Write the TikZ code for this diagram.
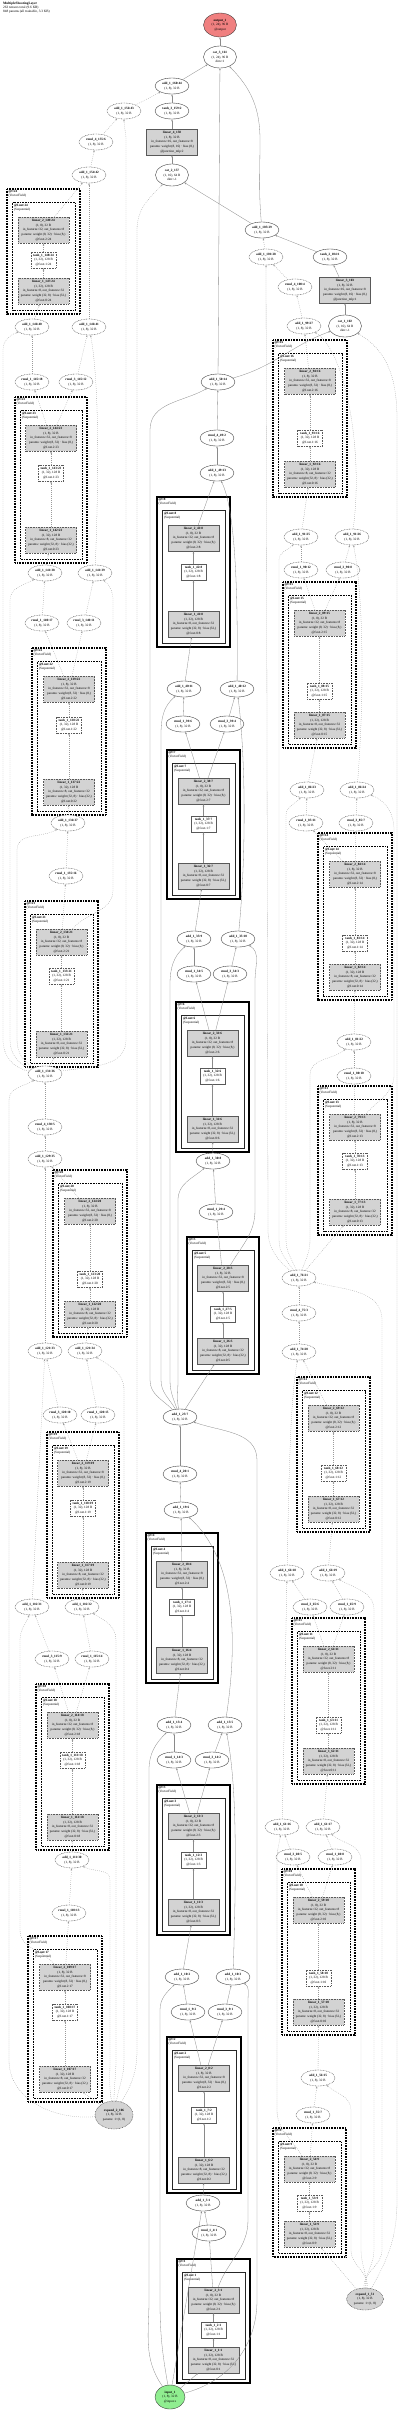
\documentclass[tikz,border=0pt]{standalone}
\usepackage{fontspec}
\setmainfont{Liberation Serif}
\usetikzlibrary{shapes.geometric,arrows.meta}
\definecolor{linfill}{HTML}{D3D3D3}
\definecolor{outfill}{HTML}{F08080}
\definecolor{infill}{HTML}{90EE90}
\definecolor{edgecol}{HTML}{8A8A8A}
\definecolor{edgecolD}{HTML}{9A9A9A}
\tikzset{
  txt/.style={font=\fontsize{3.3}{4.7}\selectfont, align=center},
  fnS/.style={ellipse, draw=black!80, line width=0.35pt, fill=white, minimum width=34pt, minimum height=16pt, inner sep=0pt, txt},
  fnD/.style={fnS, dash pattern=on 0.8pt off 0.8pt},
  linS/.style={rectangle, draw=black!65, line width=0.35pt, fill=linfill, minimum width=51pt, minimum height=26pt, inner xsep=0pt, inner ysep=1pt, txt},
  linD/.style={linS, dash pattern=on 0.8pt off 0.8pt},
  thS/.style={rectangle, draw=black!65, line width=0.35pt, fill=white, minimum width=25pt, minimum height=16pt, inner sep=0.5pt, txt},
  thD/.style={thS, dash pattern=on 0.8pt off 0.8pt},
  outerS/.style={draw=black, line width=1.3pt},
  outerD/.style={draw=black, line width=1.5pt, dash pattern=on 0.8pt off 0.8pt},
  innerS/.style={draw=black!85, line width=0.9pt},
  innerD/.style={draw=black, line width=1.0pt, dash pattern=on 0.8pt off 0.8pt},
  clab/.style={font=\fontsize{3.3}{3.9}\selectfont, align=left, inner sep=0pt},
  edgeS/.style={draw=edgecol, line width=0.3pt, -{Stealth[length=2.2pt,width=1.6pt]}},
  edgeD/.style={edgeS, draw=edgecolD, dash pattern=on 0.8pt off 1.2pt},
}
% VectorField block: #1 N, #2 x1, #3 y1, #4 x2, #5 y2, #6 tanh y, #7 base index, #8 S/D
\newcommand\vfb[8]{%
  \pgfmathsetmacro\vfcx{(#2+#4)/2}%
  \pgfmathsetmacro\vftop{#3+41}%
  \pgfmathsetmacro\vfbot{#5-23}%
  \draw[outer#8] (#2,#3) rectangle (#4,#5);
  \node[clab,anchor=north west] (fl#1) at (#2+1.4,#3+1) {\textbf{@f:#1}\\(VectorField)};
  \draw[inner#8] (#2+5.5,#3+13.5) rectangle (#4-4.5,#5-4);
  \node[clab,anchor=north west] (nl#1) at (#2+6.9,#3+14.6) {\textbf{@f.net:#1}\\(Sequential)};
  \node[lin#8] (la#1) at (\vfcx,\vfbot) {\textbf{linear\_1\_#7:#1}\\(1, 32), 128 B\\in\_features=8, out\_features=32\\params: weight (32, 8) · bias (32,)\\@f.net.0:#1};
  \node[th#8] (tb#1) at (\vfcx,#6) {\textbf{tanh\_1\_\the\numexpr#7+1\relax:#1}\\(1, 32), 128 B\\@f.net.1:#1};
  \node[lin#8] (lc#1) at (\vfcx,\vftop) {\textbf{linear\_2\_\the\numexpr#7+2\relax:#1}\\(1, 8), 32 B\\in\_features=32, out\_features=8\\params: weight (8, 32) · bias (8,)\\@f.net.2:#1};
  \draw[edge#8] (la#1) -- (tb#1);
  \draw[edge#8] (tb#1) -- (lc#1);
}
\newcommand\fnode[5]{\node[fn#2] (#1) at (#3,#4) {\textbf{#5}\\(1, 8), 32 B};}
\begin{document}
\begin{tikzpicture}[x=1pt,y=-1pt]
\fill[white] (0,0) rectangle (400,2410);
\useasboundingbox (0,0) rectangle (400,2410);
\node[anchor=north west, inner sep=0pt, align=left, font=\fontsize{3.4}{3.8}\selectfont] (hdr) at (3,2) {\textbf{MultipleShootingLayer}\\263 tensors total (9.6 KB)\\848 params (all trainable, 3.3 KB)};

% ---------------- blocks ----------------
\vfb{1}{177}{2259}{250}{2383}{2330}{1}{S}
\vfb{2}{167}{2037}{241}{2193}{2115}{6}{S}
\vfb{3}{157}{1785}{230}{1935}{1860}{11}{S}
\vfb{4}{146}{1533}{218}{1683}{1607}{16}{S}
\vfb{5}{187}{1237}{259}{1374}{1314}{26}{S}
\vfb{6}{176}{1002}{249}{1152}{1076}{31}{S}
\vfb{7}{167}{750}{240}{899}{824}{36}{S}
\vfb{8}{157}{497}{230}{647}{572}{41}{S}
\vfb{9}{273}{2128}{346}{2257}{2203}{52}{D}
\vfb{10}{282}{1869}{355}{2035}{1978}{57}{D}
\vfb{11}{292}{1618}{365}{1784}{1725}{62}{D}
\vfb{12}{297}{1377}{370}{1532}{1473}{67}{D}
\vfb{13}{318}{1086}{392}{1235}{1161}{77}{D}
\vfb{14}{318}{833}{392}{1000}{943}{82}{D}
\vfb{15}{283}{582}{356}{748}{691}{87}{D}
\vfb{16}{273}{340}{347}{497}{438}{92}{D}
\vfb{17}{28}{1936}{102}{2102}{2012}{107}{D}
\vfb{18}{36}{1684}{109}{1850}{1760}{112}{D}
\vfb{19}{47}{1432}{119}{1598}{1508}{117}{D}
\vfb{20}{53}{1170}{127}{1337}{1279}{122}{D}
\vfb{21}{25}{901}{98}{1067}{976}{132}{D}
\vfb{22}{32}{648}{106}{815}{725}{137}{D}
\vfb{23}{15}{397}{87}{563}{473}{142}{D}
\vfb{24}{7}{189}{80}{314}{260}{147}{D}

% ---------------- special nodes ----------------
\node[fnS, fill=outfill, minimum width=33pt, minimum height=24pt] (outp) at (220,25) {\textbf{output\_1}\\(1, 24), 96 B\\@output};
\node[fnS, fill=infill, minimum width=30pt, minimum height=24pt] (inp) at (170,2397) {\textbf{input\_1}\\(1, 8), 32 B\\@input.x};
\node[fnD, fill=linfill, minimum width=37pt, minimum height=22pt] (exp1) at (365,2299) {\textbf{expand\_1\_51}\\(1, 8), 32 B\\params: 1×(1, 8)};
\node[fnD, fill=linfill, minimum width=38pt, minimum height=28pt] (exp2) at (114,2115) {\textbf{expand\_2\_106}\\(1, 8), 32 B\\params: 1×(1, 8)};
\node[fnS, minimum width=33pt, minimum height=22pt] (cat161) at (220,57) {\textbf{cat\_3\_161}\\(1, 24), 96 B\\dim=1};
\node[fnS, minimum width=33pt, minimum height=22pt] (cat157) at (172,175) {\textbf{cat\_2\_157}\\(1, 16), 64 B\\dim=-1};
\node[fnS, minimum width=33pt, minimum height=22pt] (cat1) at (345,326) {\textbf{cat\_1\_102}\\(1, 16), 64 B\\dim=-1};
\node[linS] (lin4) at (172,142) {\textbf{linear\_4\_158}\\(1, 8), 32 B\\in\_features=16, out\_features=8\\params: weight (8, 16) · bias (8,)\\@junction\_mlp:2};
\node[linS] (lin3) at (345,290) {\textbf{linear\_3\_103}\\(1, 8), 32 B\\in\_features=16, out\_features=8\\params: weight (8, 16) · bias (8,)\\@junction\_mlp:1};
\fnode{tanh3}{S}{172}{111}{tanh\_3\_159:2}
\fnode{tanh2}{S}{330}{257}{tanh\_2\_104:1}
\fnode{add160}{S}{172}{86}{add\_1\_160:44}
\fnode{rj}{S}{262}{230}{add\_1\_105:29}

% ---------------- middle segment ----------------
\fnode{mr1}{S}{209}{2233}{rmul\_1\_4:1}
\fnode{ma1}{S}{203}{2203}{add\_1\_5:1}
\fnode{mr2a}{S}{188}{2012}{rmul\_1\_9:2}
\fnode{mr2b}{S}{225}{2012}{rmul\_3\_9:1}
\fnode{ma2a}{S}{182}{1977}{add\_1\_10:2}
\fnode{ma2b}{S}{233}{1977}{add\_1\_10:3}
\fnode{mr3a}{S}{174}{1760}{rmul\_1\_14:3}
\fnode{mr3b}{S}{212}{1760}{rmul\_3\_14:2}
\fnode{ma3a}{S}{174}{1725}{add\_1\_15:4}
\fnode{ma3b}{S}{225}{1725}{add\_1\_15:5}
\fnode{ms}{S}{181}{1510}{add\_1\_19:6}
\fnode{mr4}{S}{180}{1474}{rmul\_4\_20:1}
\fnode{mx1}{S}{180}{1417}{add\_1\_25:7}
\fnode{mr5}{S}{216}{1212}{rmul\_1\_29:4}
\fnode{ma5}{S}{213}{1161}{add\_1\_30:8}
\fnode{mr6a}{S}{194}{974}{rmul\_1\_34:5}
\fnode{mr6b}{S}{230}{974}{rmul\_3\_34:3}
\fnode{ma6a}{S}{194}{939}{add\_1\_35:9}
\fnode{ma6b}{S}{238}{939}{add\_1\_35:10}
\fnode{mr7a}{S}{183}{724}{rmul\_1\_39:6}
\fnode{mr7b}{S}{227}{724}{rmul\_3\_39:4}
\fnode{ma7a}{S}{184}{689}{add\_1\_40:11}
\fnode{ma7b}{S}{237}{689}{add\_1\_40:12}
\fnode{ms2}{S}{217}{473}{add\_1\_49:13}
\fnode{mr8}{S}{217}{438}{rmul\_4\_49:2}
\fnode{mx2}{S}{218}{382}{add\_1\_50:14}

% ---------------- right segment ----------------
\fnode{rr1}{D}{313}{2115}{rmul\_1\_55:7}
\fnode{ra1}{D}{318}{2078}{add\_1\_56:15}
\fnode{rr2c}{D}{293}{1857}{rmul\_3\_60:5}
\fnode{rr2s}{D}{335}{1857}{rmul\_1\_60:8}
\fnode{ra2c}{D}{282}{1827}{add\_1\_61:16}
\fnode{ra2s}{D}{323}{1827}{add\_1\_61:17}
\fnode{rr3c}{D}{310}{1607}{rmul\_3\_65:6}
\fnode{rr3s}{D}{347}{1607}{rmul\_1\_65:9}
\fnode{ra3c}{D}{287}{1573}{add\_1\_66:18}
\fnode{ra3s}{D}{328}{1573}{add\_1\_66:19}
\fnode{rs}{D}{299}{1352}{add\_1\_74:20}
\fnode{rr4}{D}{299}{1313}{rmul\_4\_75:3}
\fnode{rx1}{D}{299}{1278}{add\_1\_76:21}
\fnode{rr5}{D}{354}{1076}{rmul\_1\_80:10}
\fnode{ra5}{D}{354}{1042}{add\_1\_81:22}
\fnode{rr6s}{D}{306}{823}{rmul\_1\_85:11}
\fnode{rr6c}{D}{356}{823}{rmul\_3\_85:7}
\fnode{ra6s}{D}{307}{790}{add\_1\_86:23}
\fnode{ra6c}{D}{357}{790}{add\_1\_86:24}
\fnode{rr7s}{D}{301}{570}{rmul\_1\_90:12}
\fnode{rr7c}{D}{343}{570}{rmul\_3\_90:8}
\fnode{ra7s}{D}{301}{537}{add\_1\_91:25}
\fnode{ra7c}{D}{352}{537}{add\_1\_91:26}
\fnode{rs2}{D}{304}{326}{add\_1\_99:27}
\fnode{rr8}{D}{295}{287}{rmul\_4\_100:4}
\fnode{rx2}{D}{266}{257}{add\_1\_101:28}

% ---------------- left segment ----------------
\fnode{Lr1}{D}{69}{1913}{rmul\_1\_110:13}
\fnode{La1}{D}{72}{1860}{add\_1\_111:30}
\fnode{Lr2c}{D}{52}{1659}{rmul\_3\_115:9}
\fnode{Lr2s}{D}{92}{1659}{rmul\_1\_115:14}
\fnode{La2c}{D}{32}{1607}{add\_1\_116:31}
\fnode{La2s}{D}{82}{1607}{add\_1\_116:32}
\fnode{Lr3c}{D}{60}{1415}{rmul\_3\_120:10}
\fnode{Lr3s}{D}{98}{1415}{rmul\_1\_120:15}
\fnode{La3c}{D}{45}{1351}{add\_1\_121:33}
\fnode{La3s}{D}{85}{1351}{add\_1\_121:34}
\fnode{Ls}{D}{45}{1159}{add\_1\_129:35}
\fnode{Lr4}{D}{45}{1127}{rmul\_4\_130:5}
\fnode{Lx1}{D}{45}{1074}{add\_1\_131:36}
\fnode{Lr5}{D}{66}{876}{rmul\_1\_135:16}
\fnode{La5}{D}{68}{823}{add\_1\_136:37}
\fnode{Lr6s}{D}{42}{623}{rmul\_1\_140:17}
\fnode{Lr6c}{D}{84}{623}{rmul\_3\_140:11}
\fnode{La6s}{D}{45}{573}{add\_1\_141:38}
\fnode{La6c}{D}{95}{573}{add\_1\_141:39}
\fnode{Lr7s}{D}{32}{382}{rmul\_1\_145:18}
\fnode{Lr7c}{D}{76}{382}{rmul\_3\_145:12}
\fnode{La7s}{D}{32}{327}{add\_1\_146:40}
\fnode{La7c}{D}{89}{327}{add\_1\_146:41}
\fnode{Ls2}{D}{89}{175}{add\_1\_154:42}
\fnode{Lr8}{D}{96}{142}{rmul\_4\_155:6}
\fnode{Lx2}{D}{124}{111}{add\_1\_156:43}

% ---------------- edges: middle ----------------
\draw[edgeS] (inp) -- (la1);
\draw[edgeS] (lc1) -- (mr1);
\draw[edgeS] (mr1) -- (ma1);
\draw[edgeS] (inp) -- (ma1);
\draw[edgeS] (ma1) -- (la2);
\draw[edgeS] (inp) to[out=100,in=-90] (160,2300) -- (160,2010) to[out=90,in=-135] (ma2a);
\draw[edgeS] (inp) to[out=125,in=-90] (149,2300) -- (149,1770) to[out=90,in=-135] (ma3a);
\draw[edgeS] (inp) to[out=15,in=-90] (257,2300) -- (257,1460) to[out=90,in=-20] (mx1);
\draw[edgeS] (lc1) to[out=70,in=-90] (248,2220) -- (248,2000) to[out=90,in=-30] (ma2b);
\draw[edgeS] (lc2) -- (mr2a);
\draw[edgeS] (lc2) -- (mr2b);
\draw[edgeS] (mr2a) -- (ma2a);
\draw[edgeS] (mr2b) -- (ma2b);
\draw[edgeS] (ma2a) -- (la3);
\draw[edgeS] (lc3) -- (mr3a);
\draw[edgeS] (lc3) -- (mr3b);
\draw[edgeS] (mr3a) -- (ma3a);
\draw[edgeS] (mr3b) -- (ma3b);
\draw[edgeS] (ma2b) .. controls (237,1850) and (236,1780) .. (ma3b);
\draw[edgeS] (ma3a) -- (la4);
\draw[edgeS] (ma3b) .. controls (238,1640) and (236,1560) .. (ms);
\draw[edgeS] (lc4) -- (ms);
\draw[edgeS] (ms) -- (mr4);
\draw[edgeS] (mr4) -- (mx1);
\draw[edgeS] (mx1) -- (la5);
\draw[edgeS] (mx1) to[out=100,in=-90] (178,1380) -- (178,1200) to[out=90,in=-140] (ma5);
\draw[edgeS] (mx1) to[out=110,in=-90] (170,1380) -- (170,985) to[out=90,in=-140] (ma6a);
\draw[edgeS] (mx1) to[out=120,in=-90] (161,1380) -- (161,735) to[out=90,in=-140] (ma7a);
\draw[edgeS] (mx1) to[out=135,in=-90] (150,1380) -- (150,430) to[out=90,in=-150] (mx2);
\draw[edgeS] (lc5) -- (mr5);
\draw[edgeS] (mr5) -- (ma5);
\draw[edgeS] (ma5) -- (la6);
\draw[edgeS] (lc5) to[out=60,in=-90] (255,1210) -- (255,980) to[out=90,in=-30] (ma6b);
\draw[edgeS] (lc6) -- (mr6a);
\draw[edgeS] (lc6) -- (mr6b);
\draw[edgeS] (mr6a) -- (ma6a);
\draw[edgeS] (mr6b) -- (ma6b);
\draw[edgeS] (ma6a) -- (la7);
\draw[edgeS] (ma6b) .. controls (246,860) and (246,760) .. (ma7b);
\draw[edgeS] (lc7) -- (mr7a);
\draw[edgeS] (lc7) -- (mr7b);
\draw[edgeS] (mr7a) -- (ma7a);
\draw[edgeS] (mr7b) -- (ma7b);
\draw[edgeS] (ma7a) -- (la8);
\draw[edgeS] (ma7b) .. controls (238,600) and (236,510) .. (ms2);
\draw[edgeS] (lc8) -- (ms2);
\draw[edgeS] (ms2) -- (mr8);
\draw[edgeS] (mr8) -- (mx2);
\draw[edgeS] (mx2) -- (cat161);
\draw[edgeS] (mx2) to[out=15,in=-160] (cat1);

% ---------------- edges: right ----------------
\draw[edgeD] (exp1) -- (la9);
\draw[edgeD] (exp1) to[out=80,in=-90] (351,2250) -- (351,2110) to[out=90,in=-40] (ra1);
\draw[edgeD] (exp1) to[out=85,in=-90] (361,2250) -- (361,1860) to[out=90,in=-40] (ra2s);
\draw[edgeD] (exp1) to[out=90,in=-90] (374,2250) -- (374,1610) to[out=90,in=-30] (ra3s);
\draw[edgeD] (exp1) to[out=95,in=-90] (382,2250) -- (382,1320) to[out=90,in=-15] (rx1);
\draw[edgeD] (exp1) to[out=60,in=-90] (397,2200) -- (397,420) to[out=90,in=-30] (cat1);
\draw[edgeD] (lc9) -- (rr1);
\draw[edgeD] (rr1) -- (ra1);
\draw[edgeD] (ra1) -- (la10);
\draw[edgeD] (lc9) to[out=120,in=-90] (277,2110) -- (277,1860) to[out=90,in=-100] (ra2c);
\draw[edgeD] (lc10) -- (rr2c);
\draw[edgeD] (lc10) -- (rr2s);
\draw[edgeD] (rr2c) -- (ra2c);
\draw[edgeD] (rr2s) -- (ra2s);
\draw[edgeD] (ra2s) -- (la11);
\draw[edgeD] (lc11) -- (rr3c);
\draw[edgeD] (lc11) -- (rr3s);
\draw[edgeD] (rr3c) -- (ra3c);
\draw[edgeD] (rr3s) -- (ra3s);
\draw[edgeD] (ra2c) .. controls (285,1700) and (286,1620) .. (ra3c);
\draw[edgeD] (ra3s) -- (la12);
\draw[edgeD] (ra3c) .. controls (289,1480) and (290,1400) .. (rs);
\draw[edgeD] (lc12) -- (rs);
\draw[edgeD] (rs) -- (rr4);
\draw[edgeD] (rr4) -- (rx1);
\draw[edgeD] (rx1) -- (la13);
\draw[edgeD] (rx1) to[out=70,in=-90] (310,1240) -- (310,1075) to[out=90,in=-140] (ra5);
\draw[edgeD] (rx1) to[out=110,in=-90] (286,1240) -- (286,815) to[out=90,in=-130] (ra6s);
\draw[edgeD] (rx1) to[out=125,in=-90] (279,1240) -- (279,560) to[out=90,in=-135] (ra7s);
\draw[edgeD] (rx1) to[out=140,in=-90] (268,1230) -- (rx2);
\draw[edgeD] (lc13) -- (rr5);
\draw[edgeD] (rr5) -- (ra5);
\draw[edgeD] (ra5) -- (la14);
\draw[edgeD] (lc13) to[out=50,in=-90] (394,1075) -- (394,830) to[out=90,in=-20] (ra6c);
\draw[edgeD] (lc14) -- (rr6s);
\draw[edgeD] (lc14) -- (rr6c);
\draw[edgeD] (rr6s) -- (ra6s);
\draw[edgeD] (rr6c) -- (ra6c);
\draw[edgeD] (ra6s) -- (la15);
\draw[edgeD] (ra6c) .. controls (364,700) and (364,600) .. (ra7c);
\draw[edgeD] (lc15) -- (rr7s);
\draw[edgeD] (lc15) -- (rr7c);
\draw[edgeD] (rr7s) -- (ra7s);
\draw[edgeD] (rr7c) -- (ra7c);
\draw[edgeD] (ra7s) -- (la16);
\draw[edgeD] (ra7c) .. controls (364,450) and (345,350) .. (rs2);
\draw[edgeD] (lc16) -- (rs2);
\draw[edgeD] (rs2) -- (rr8);
\draw[edgeD] (rr8) -- (rx2);
\draw[edgeD] (rx2) -- (rj);
\draw[edgeS] (cat1) -- (lin3);
\draw[edgeS] (lin3) -- (tanh2);
\draw[edgeS] (tanh2) -- (rj);
\draw[edgeS] (rj) to[out=95,in=-90] (260,140) to[out=90,in=-45] (cat161);
\draw[edgeS] (rj) -- (cat157);

% ---------------- edges: left ----------------
\draw[edgeD] (exp2) -- (la17);
\draw[edgeD] (exp2) to[out=100,in=-90] (110,2060) -- (110,1880) to[out=90,in=-30] (La1);
\draw[edgeD] (exp2) to[out=90,in=-90] (116,2060) -- (116,1640) to[out=90,in=-30] (La2s);
\draw[edgeD] (exp2) to[out=80,in=-90] (124,2060) -- (124,1390) to[out=90,in=-30] (La3s);
\draw[edgeD] (exp2) to[out=185,in=-90] (9,2060) -- (9,1100) to[out=90,in=-150] (Lx1);
\draw[edgeD] (exp2) to[out=60,in=-90] (137,2050) -- (137,230) to[out=90,in=-135] (cat157);
\draw[edgeD] (lc17) -- (Lr1);
\draw[edgeD] (Lr1) -- (La1);
\draw[edgeD] (La1) -- (la18);
\draw[edgeD] (lc17) to[out=130,in=-90] (20,1930) -- (20,1640) to[out=90,in=-110] (La2c);
\draw[edgeD] (lc18) -- (Lr2c);
\draw[edgeD] (lc18) -- (Lr2s);
\draw[edgeD] (Lr2c) -- (La2c);
\draw[edgeD] (Lr2s) -- (La2s);
\draw[edgeD] (La2s) -- (la19);
\draw[edgeD] (La2c) -- (La3c);
\draw[edgeD] (lc19) -- (Lr3c);
\draw[edgeD] (lc19) -- (Lr3s);
\draw[edgeD] (Lr3c) -- (La3c);
\draw[edgeD] (Lr3s) -- (La3s);
\draw[edgeD] (La3s) -- (la20);
\draw[edgeD] (La3c) -- (Ls);
\draw[edgeD] (lc20) -- (Ls);
\draw[edgeD] (Ls) -- (Lr4);
\draw[edgeD] (Lr4) -- (Lx1);
\draw[edgeD] (Lx1) -- (la21);
\draw[edgeD] (Lx1) to[out=150,in=-90] (17,1040) -- (17,850) to[out=90,in=-150] (La5);
\draw[edgeD] (Lx1) to[out=160,in=-90] (10,1040) -- (10,600) to[out=90,in=-150] (La6s);
\draw[edgeD] (Lx1) to[out=170,in=-90] (3,1040) -- (3,350) to[out=90,in=-160] (La7s);
\draw[edgeD] (Lx1) to[out=10,in=-90] (126,1040) -- (126,140) to[out=90,in=-90] (Lx2);
\draw[edgeD] (lc21) -- (Lr5);
\draw[edgeD] (Lr5) -- (La5);
\draw[edgeD] (La5) -- (la22);
\draw[edgeD] (lc21) to[out=50,in=-90] (113,890) -- (113,600) to[out=90,in=-40] (La6c);
\draw[edgeD] (lc22) -- (Lr6s);
\draw[edgeD] (lc22) -- (Lr6c);
\draw[edgeD] (Lr6s) -- (La6s);
\draw[edgeD] (Lr6c) -- (La6c);
\draw[edgeD] (La6s) -- (la23);
\draw[edgeD] (La6c) .. controls (99,470) and (99,380) .. (La7c);
\draw[edgeD] (lc23) -- (Lr7s);
\draw[edgeD] (lc23) -- (Lr7c);
\draw[edgeD] (Lr7s) -- (La7s);
\draw[edgeD] (Lr7c) -- (La7c);
\draw[edgeD] (La7s) -- (la24);
\draw[edgeD] (La7c) -- (Ls2);
\draw[edgeD] (lc24) -- (Ls2);
\draw[edgeD] (Ls2) -- (Lr8);
\draw[edgeD] (Lr8) -- (Lx2);
\draw[edgeD] (Lx2) -- (add160);
\draw[edgeS] (cat157) -- (lin4);
\draw[edgeS] (lin4) -- (tanh3);
\draw[edgeS] (tanh3) -- (add160);
\draw[edgeS] (add160) -- (cat161);
\draw[edgeS] (cat161) -- (outp);
\end{tikzpicture}
\end{document}
